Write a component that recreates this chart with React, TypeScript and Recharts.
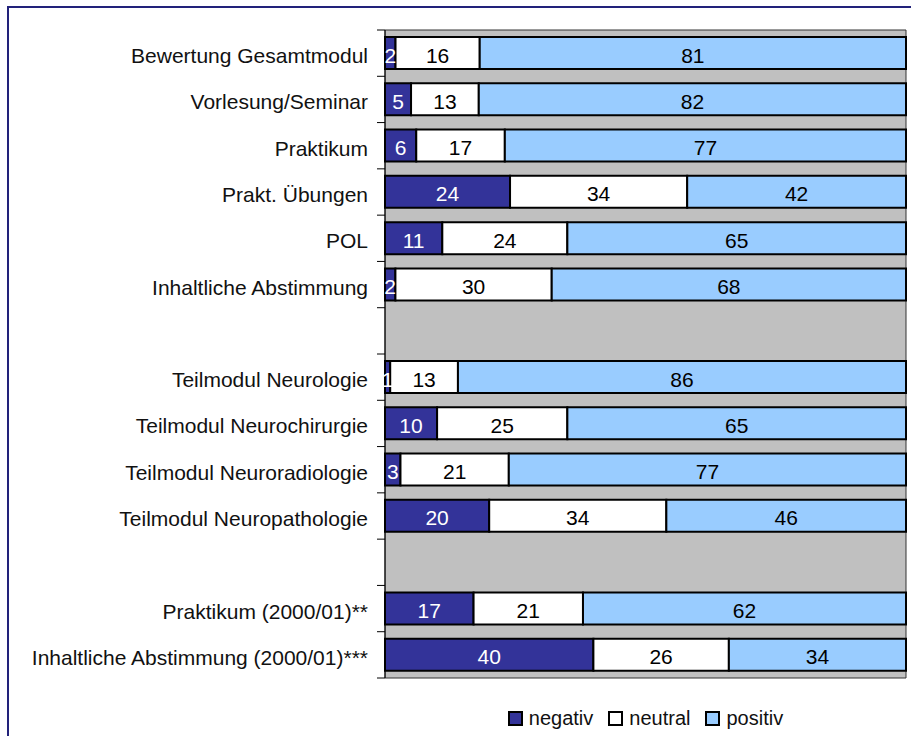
import React from "react";
import {
  BarChart,
  Bar,
  XAxis,
  YAxis,
  CartesianGrid,
  LabelList,
  ReferenceArea,
} from "recharts";

const categories = [
  "Bewertung Gesamtmodul",
  "Vorlesung/Seminar",
  "Praktikum",
  "Prakt. Übungen",
  "POL",
  "Inhaltliche Abstimmung",
  "",
  "Teilmodul Neurologie",
  "Teilmodul Neurochirurgie",
  "Teilmodul Neuroradiologie",
  "Teilmodul Neuropathologie",
  " ",
  "Praktikum (2000/01)**",
  "Inhaltliche Abstimmung (2000/01)***",
];

const negativ = [2, 5, 6, 24, 11, 2, null, 1, 10, 3, 20, null, 17, 40];
const neutral = [16, 13, 17, 34, 24, 30, null, 13, 25, 21, 34, null, 21, 26];
const positiv = [81, 82, 77, 42, 65, 68, null, 86, 65, 77, 46, null, 62, 34];

const seriesNames = ["negativ", "neutral", "positiv"];
const seriesColors = ["#333399", "#ffffff", "#99ccff"];
const labelColors = ["#ffffff", "#000000", "#000000"];

const data = categories.map((name, i) => ({
  name,
  negativ: negativ[i],
  neutral: neutral[i],
  positiv: positiv[i],
}));

const W = 911;
const H = 736;
const MARGIN = { top: 30, right: 5, bottom: 58, left: 0 };
const YW = 385;
const FONT = "'Liberation Sans', Arial, Helvetica, sans-serif";
const FS = 21;
const TICK_SIZE = 8;
const TICK_MARGIN = 9;
const BAND = (H - MARGIN.top - MARGIN.bottom) / categories.length;

const CatTick = (props: any) => {
  const { x, y, payload, index } = props;
  const axisX = x + TICK_SIZE + TICK_MARGIN;
  const isLast = index === categories.length - 1;
  return (
    <g>
      <line
        x1={axisX - TICK_SIZE}
        x2={axisX}
        y1={y - BAND / 2}
        y2={y - BAND / 2}
        stroke="#000"
        strokeWidth={1}
      />
      {isLast && (
        <line
          x1={axisX - TICK_SIZE}
          x2={axisX}
          y1={y + BAND / 2}
          y2={y + BAND / 2}
          stroke="#000"
          strokeWidth={1}
        />
      )}
      <text
        x={x}
        y={y}
        dy={10}
        textAnchor="end"
        fontFamily={FONT}
        fontSize={FS}
        fill="#111"
      >
        {String(payload.value).trim()}
      </text>
    </g>
  );
};

const makeLabel = (color: string) => (props: any) => {
  const { x, y, width, height, value } = props;
  if (value == null || Array.isArray(value)) return null;
  return (
    <text
      x={x + width / 2}
      y={y + height / 2}
      dy={9.5}
      textAnchor="middle"
      fontFamily={FONT}
      fontSize={FS}
      fill={color}
    >
      {value}
    </text>
  );
};

const LegendBox = () => (
  <div
    style={{
      position: "absolute",
      left: 385,
      width: 521,
      top: 706,
      height: 24,
      display: "flex",
      justifyContent: "center",
      alignItems: "center",
      fontFamily: FONT,
      fontSize: 20,
      color: "#111",
      lineHeight: "24px",
    }}
  >
    {seriesNames.map((n, i) => (
      <div
        key={n}
        style={{ display: "flex", alignItems: "center", marginRight: i < 2 ? 15 : 0 }}
      >
        <div
          style={{
            width: 15,
            height: 15,
            boxSizing: "border-box",
            border: "2px solid #000",
            background: seriesColors[i],
            marginRight: 6,
          }}
        />
        <span>{n}</span>
      </div>
    ))}
  </div>
);

export default function App() {
  return (
    <div
      style={{
        position: "absolute",
        left: 0,
        top: 0,
        width: W,
        height: H,
        background: "#fff",
        overflow: "hidden",
      }}
    >
      <div
        style={{
          position: "absolute",
          left: 7,
          top: 6,
          width: W,
          height: H,
          borderTop: "2px solid #22227a",
          borderLeft: "2px solid #22227a",
        }}
      />
      <div style={{ position: "absolute", left: 0, top: 0 }}>
        <BarChart
          width={W}
          height={H}
          data={data}
          layout="vertical"
          stackOffset="expand"
          margin={MARGIN}
          barSize={32}
        >
          <CartesianGrid
            horizontal={false}
            vertical={false}
            fill="#c0c0c0"
            fillOpacity={1}
          />
          <XAxis type="number" domain={[0, 1]} hide />
          <YAxis
            type="category"
            dataKey="name"
            width={YW}
            interval={0}
            tickSize={TICK_SIZE}
            tickMargin={TICK_MARGIN}
            tickLine={{ stroke: "none" }}
            axisLine={{ stroke: "#000" }}
            tick={<CatTick />}
          />
          {seriesNames.map((k, i) => (
            <Bar
              key={k}
              dataKey={k}
              stackId="a"
              fill={seriesColors[i]}
              stroke="#000"
              strokeWidth={2}
              isAnimationActive={false}
            >
              <LabelList dataKey={k} content={makeLabel(labelColors[i])} />
            </Bar>
          ))}
          <ReferenceArea
            x1={0}
            x2={1}
            fill="none"
            stroke="#333"
            strokeWidth={1}
            ifOverflow="visible"
          />
        </BarChart>
      </div>
      <LegendBox />
    </div>
  );
}
